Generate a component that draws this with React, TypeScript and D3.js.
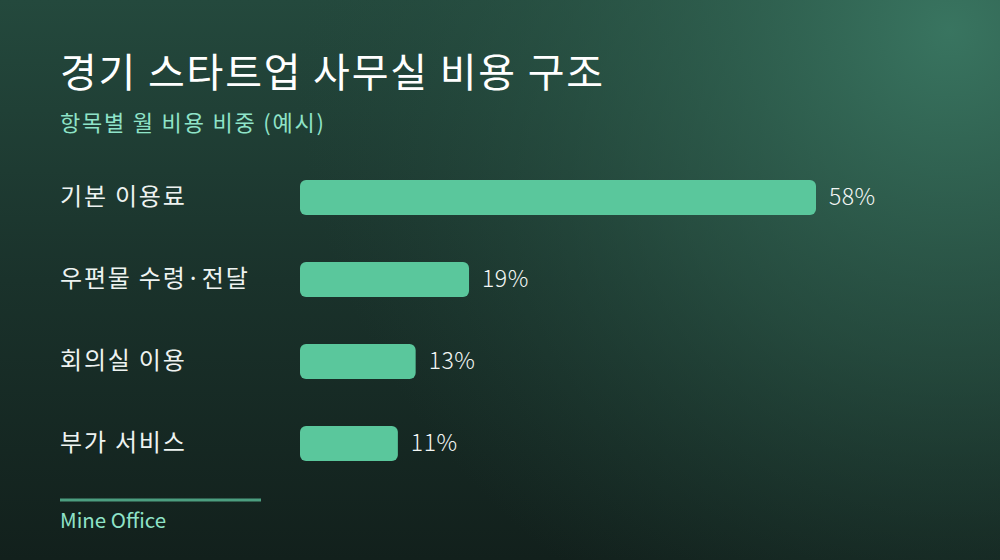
import { useEffect, useRef } from "react";
import * as d3 from "d3";

const categories = ["기본 이용료", "우편물 수령·전달", "회의실 이용", "부가 서비스"];
const shares = [58, 19, 13, 11];

const W = 1000;
const H = 560;
const FONT = "'Noto Sans CJK KR', 'Noto Sans', sans-serif";

export default function App() {
  const svgRef = useRef<SVGSVGElement>(null);

  useEffect(() => {
    if (!svgRef.current) return;
    const svg = d3.select(svgRef.current);
    svg.selectAll("*").remove();

    const defs = svg.append("defs");

    // base: top-to-bottom darkening
    const base = defs
      .append("linearGradient")
      .attr("id", "bg-base")
      .attr("x1", "0%")
      .attr("y1", "0%")
      .attr("x2", "0%")
      .attr("y2", "100%");
    base.append("stop").attr("offset", "0%").attr("stop-color", "#24493d");
    base.append("stop").attr("offset", "50%").attr("stop-color", "#1a322b");
    base.append("stop").attr("offset", "100%").attr("stop-color", "#12201c");

    // glow from the top right corner
    const glow = defs
      .append("radialGradient")
      .attr("id", "bg-glow")
      .attr("gradientUnits", "userSpaceOnUse")
      .attr("cx", 950)
      .attr("cy", 30)
      .attr("r", 660);
    glow.append("stop").attr("offset", "0%").attr("stop-color", "#3a7762").attr("stop-opacity", 0.95);
    glow.append("stop").attr("offset", "50%").attr("stop-color", "#2f5f4e").attr("stop-opacity", 0.55);
    glow.append("stop").attr("offset", "100%").attr("stop-color", "#24493d").attr("stop-opacity", 0);

    svg.append("rect").attr("width", W).attr("height", H).attr("fill", "url(#bg-base)");
    svg.append("rect").attr("width", W).attr("height", H).attr("fill", "url(#bg-glow)");

    // title block
    svg.append("text")
      .attr("x", 60)
      .attr("y", 87)
      .attr("fill", "#ffffff")
      .style("font-family", FONT)
      .style("font-size", "40px")
      .style("font-weight", 400)
      .style("letter-spacing", "1.8px")
      .text("경기 스타트업 사무실 비용 구조");

    svg.append("text")
      .attr("x", 60)
      .attr("y", 131)
      .attr("fill", "#8fe3c8")
      .style("font-family", FONT)
      .style("font-size", "22px")
      .style("letter-spacing", "1.8px")
      .text("항목별 월 비용 비중 (예시)");

    // bars
    const x = d3.scaleLinear().domain([0, 58]).range([300, 816]);
    const y = d3
      .scaleBand<string>()
      .domain(categories)
      .range([180, 461])
      .paddingInner(47 / 82)
      .paddingOuter(0);

    const rows = svg
      .append("g")
      .selectAll("g")
      .data(categories)
      .join("g");

    rows.append("text")
      .attr("x", 60)
      .attr("y", (d) => (y(d) ?? 0) + y.bandwidth() / 2 + 7)
      .attr("fill", "#eef3f1")
      .style("font-family", FONT)
      .style("font-size", "24px")
      .style("letter-spacing", "1.8px")
      .text((d) => d);

    rows.append("rect")
      .attr("x", x(0))
      .attr("y", (d) => y(d) ?? 0)
      .attr("width", (_, i) => x(shares[i]) - x(0))
      .attr("height", y.bandwidth())
      .attr("rx", 6)
      .attr("fill", "#5ac79c");

    rows.append("text")
      .attr("x", (_, i) => x(shares[i]) + 13)
      .attr("y", (d) => (y(d) ?? 0) + y.bandwidth() / 2 + 7.5)
      .attr("fill", "#f2f6f4")
      .style("font-family", FONT)
      .style("font-size", "23px")
      .style("font-weight", 300)
      .style("letter-spacing", "0.5px")
      .text((_, i) => `${shares[i]}%`);

    // footer
    svg.append("line")
      .attr("x1", 60)
      .attr("x2", 261)
      .attr("y1", 500)
      .attr("y2", 500)
      .attr("stroke", "#4c9e80")
      .attr("stroke-width", 3);

    svg.append("text")
      .attr("x", 60)
      .attr("y", 528)
      .attr("fill", "#8fe3c8")
      .style("font-family", FONT)
      .style("font-size", "20.5px")
      .text("Mine Office");
  }, []);

  return (
    <svg
      ref={svgRef}
      width={W}
      height={H}
      style={{ position: "absolute", left: 0, top: 0, display: "block" }}
    />
  );
}
